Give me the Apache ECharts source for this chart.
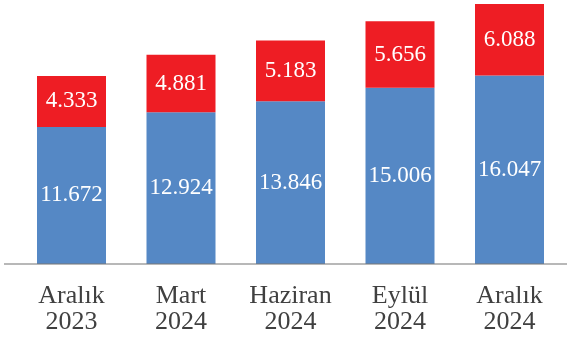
<!DOCTYPE html>
<html><head><meta charset="utf-8">
<script src="https://cdn.jsdelivr.net/npm/echarts@6/dist/echarts.min.js"></script>
<style>html,body{margin:0;padding:0;background:#fff}#c{width:567px;height:339px}</style>
</head><body><div id="c"></div>
<script>
var categories = ['Aralık\n2023', 'Mart\n2024', 'Haziran\n2024', 'Eylül\n2024', 'Aralık\n2024'];
var blueValues = [11.672, 12.924, 13.846, 15.006, 16.047];
var redValues = [4.333, 4.881, 5.183, 5.656, 6.088];

var totals = blueValues.map(function (v, i) { return v + redValues[i]; });
var yMax = Math.max.apply(null, totals);
var fmt = function (p) { return p.value.toFixed(3); };
var chart = echarts.init(document.getElementById('c'));
var FONT = '"Liberation Serif", "Times New Roman", serif';
chart.setOption({
  animation: false,
  grid: { left: 16.75, right: 2.75, top: 4, bottom: 75 },
  xAxis: {
    type: 'category', data: categories,
    axisLine: { show: false }, axisTick: { show: false },
    axisLabel: { color: '#404040', fontFamily: FONT, fontSize: 26, lineHeight: 26, margin: 19, interval: 0 }
  },
  yAxis: { type: 'value', min: 0, max: yMax, show: false, splitLine: { show: false } },
  series: [
    { type: 'bar', stack: 't', data: blueValues, barWidth: 69,
      itemStyle: { color: '#5588C5' },
      label: { show: true, position: 'inside', color: '#fff', fontFamily: FONT, fontSize: 23, formatter: fmt } },
    { type: 'bar', stack: 't', data: redValues, barWidth: 69,
      itemStyle: { color: '#EE1D24' },
      label: { show: true, position: 'inside', color: '#fff', fontFamily: FONT, fontSize: 23, formatter: fmt } }
  ],
  graphic: [{ type: 'line', z: 100, shape: { x1: 4, y1: 264, x2: 567, y2: 264 },
    style: { stroke: 'rgba(120,120,120,0.7)', lineWidth: 1.5 } }]
});
</script></body></html>
